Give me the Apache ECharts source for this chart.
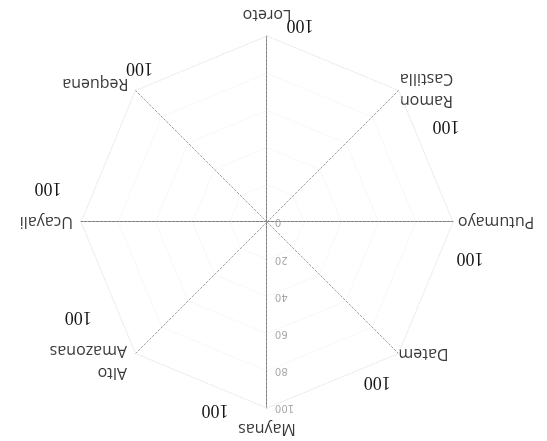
<!DOCTYPE html>
<html><head><meta charset="utf-8">
<script src="https://cdn.jsdelivr.net/npm/echarts@6/dist/echarts.min.js"></script>
<style>
html,body{margin:0;padding:0;background:#fff;}
#wrap{width:547px;height:441px;transform:rotate(180deg);transform-origin:50% 50%;}
#chart{width:547px;height:441px;}
</style></head><body>
<div id="wrap"><div id="chart"></div></div>
<script>
// Indicators listed counter-clockwise from the top (ECharts radar order);
// the whole picture is shown rotated by 180 degrees, as in the reference.
const indicatorNames = ['Maynas', 'Datem', 'Putumayo', 'Ramon\nCastilla', 'Loreto', 'Requena', 'Ucayali', 'Alto\nAmazonas'];
const indicatorMax = [100, 100, 100, 100, 100, 100, 100, 100];
const seriesValues = [100, 100, 100, 100, 100, 100, 100, 100];
const tickLabels = [0, 20, 40, 60, 80, 100];

// style-only settings
const nameGaps = [10, 0, 5, 2, 10, 10, 8, 12];
const maxLabelOffsets = [52, 41, 36, 61, 33, 21, 34, 63];   // sideways offset of the "100" labels
const maxLabelShiftX = [0, 0, -6, 3.5, 0, 3, 22, 5];        // small horizontal nudge of the "100" labels
const maxLabelVAlign = ['top', 'top', 'middle', 'middle', 'middle', 'middle', 'middle', 'middle'];

const chart = echarts.init(document.getElementById('chart'), null, {renderer: 'canvas'});

function axisStyle(i) {
  const straight = (i % 2 === 0);
  return {lineStyle: straight
    ? {color: '#828282', type: [3, 1], width: 1}
    : {color: '#a2a2a2', type: [2, 2], width: 1}};
}

function nudgePadding(i) {
  const dx = maxLabelShiftX[i];
  return [0, 2 * Math.max(-dx, 0), 0, 2 * Math.max(dx, 0)];
}

const radarMain = {
  center: [280, 219],
  radius: 186,
  startAngle: 90,
  splitNumber: 5,
  shape: 'polygon',
  indicator: indicatorNames.map((n, i) => {
    const o = {name: n, min: 0, max: indicatorMax[i], nameGap: nameGaps[i], axisLine: axisStyle(i)};
    if (i === 0) {
      o.axisLabel = {
        show: true, margin: 8, color: '#a8a8a8', fontSize: 10, fontFamily: 'DejaVu Sans',
        formatter: v => tickLabels.indexOf(v) >= 0 ? String(v) : ''
      };
    }
    return o;
  }),
  axisName: {color: '#3a3a3a', fontSize: 16, fontFamily: 'Open Sans', lineHeight: 22},
  splitLine: {lineStyle: {color: '#f2f2f2', type: 'dotted', width: 1}},
  splitArea: {show: false},
  axisTick: {show: false},
  axisLabel: {show: false}
};

const radarMax = {
  center: [280, 219],
  radius: 197,
  startAngle: 90,
  splitNumber: 5,
  shape: 'polygon',
  indicator: indicatorNames.map((n, i) => ({
    name: n, min: 0, max: indicatorMax[i],
    axisLabel: {
      show: true, margin: -maxLabelOffsets[i], align: 'center', verticalAlign: maxLabelVAlign[i],
      padding: nudgePadding(i),
      color: '#151515', fontSize: 18, fontFamily: 'Liberation Serif',
      formatter: v => v === indicatorMax[i] ? String(v) : ''
    }
  })),
  axisName: {show: false},
  axisLine: {show: false},
  splitLine: {show: false},
  splitArea: {show: false},
  axisTick: {show: false},
  axisLabel: {show: false}
};

chart.setOption({
  backgroundColor: '#ffffff',
  animation: false,
  radar: [radarMain, radarMax],
  series: [{
    type: 'radar',
    radarIndex: 0,
    silent: true,
    symbol: 'none',
    lineStyle: {color: '#e4e4e4', width: 1, type: 'dotted'},
    data: [{value: seriesValues, name: 'valor'}]
  }]
});
</script>
</body></html>
